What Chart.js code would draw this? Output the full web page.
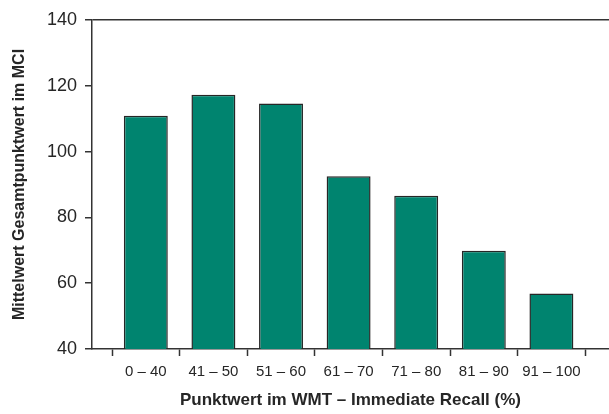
<!DOCTYPE html>
<html>
<head>
<meta charset="utf-8">
<script src="https://cdn.jsdelivr.net/npm/chart.js@4"></script>
<style>
html,body{margin:0;padding:0;background:#fff;}
#wrap{width:609px;height:414px;position:relative;}
</style>
</head>
<body>
<div id="wrap"><canvas id="c" width="609" height="414"></canvas></div>
<script>
const categories = ['0 – 40', '41 – 50', '51 – 60', '61 – 70', '71 – 80', '81 – 90', '91 – 100'];
const values = [110.9, 117.3, 114.6, 92.5, 86.6, 69.9, 56.9];
const yTicks = [40, 60, 80, 100, 120, 140];
const xTitle = 'Punktwert im WMT – Immediate Recall (%)';
const yTitle = 'Mittelwert Gesamtpunktwert im MCI';

const AXIS = '#333333';
const TEXT = '#262626';
const FONT = "'Liberation Sans', Arial, sans-serif";

const points = values.map((v, i) => ({x: i, y: v}));

new Chart(document.getElementById('c'), {
  type: 'bar',
  data: {
    datasets: [{
      data: points,
      backgroundColor: '#00846F',
      borderColor: '#262626',
      borderWidth: 1.5,
      barPercentage: 1.3,
      categoryPercentage: 1.0
    }]
  },
  options: {
    responsive: false,
    animation: false,
    layout: {padding: {left: 0, right: 0, top: 20, bottom: 0}},
    plugins: {legend: {display: false}, tooltip: {enabled: false}},
    scales: {
      x: {
        type: 'linear',
        offset: false,
        min: -0.796,
        max: 6.852,
        afterBuildTicks: (s) => {
          const t = [];
          for (let k = -1; k <= 13; k++) t.push({value: k / 2});
          s.ticks = t;
        },
        afterFit: (s) => { s.height = 65; },
        border: {display: true, color: AXIS, width: 1.5},
        grid: {
          display: true,
          drawOnChartArea: false,
          offset: false,
          tickLength: 7,
          tickWidth: 1.5,
          tickColor: (ctx) => (ctx.tick && Number.isInteger(ctx.tick.value)) ? 'rgba(0,0,0,0)' : AXIS
        },
        ticks: {
          autoSkip: false,
          maxRotation: 0,
          padding: 7,
          color: TEXT,
          font: {family: FONT, size: 15},
          callback: (v) => Number.isInteger(v) ? categories[v] : ''
        },
        title: {
          display: true,
          text: xTitle,
          color: TEXT,
          font: {family: FONT, size: 17, weight: 'bold'},
          padding: {top: 0, bottom: 3}
        }
      },
      y: {
        min: 40,
        max: 140,
        afterBuildTicks: (s) => { s.ticks = yTicks.map(v => ({value: v})); },
        afterFit: (s) => { s.width = 92; },
        border: {display: true, color: AXIS, width: 1.5},
        grid: {
          display: true,
          drawOnChartArea: true,
          tickLength: 7,
          lineWidth: 1.5,
          color: (ctx) => (ctx.tick && ctx.tick.value === 140) ? AXIS : 'rgba(0,0,0,0)',
          tickColor: AXIS,
          tickWidth: 1.5
        },
        ticks: {
          padding: 8,
          color: TEXT,
          font: {family: FONT, size: 18}
        },
        title: {
          display: true,
          text: yTitle,
          color: TEXT,
          font: {family: FONT, size: 16, weight: 'bold'},
          padding: {top: 10, bottom: 0}
        }
      }
    }
  }
});
</script>
</body>
</html>
